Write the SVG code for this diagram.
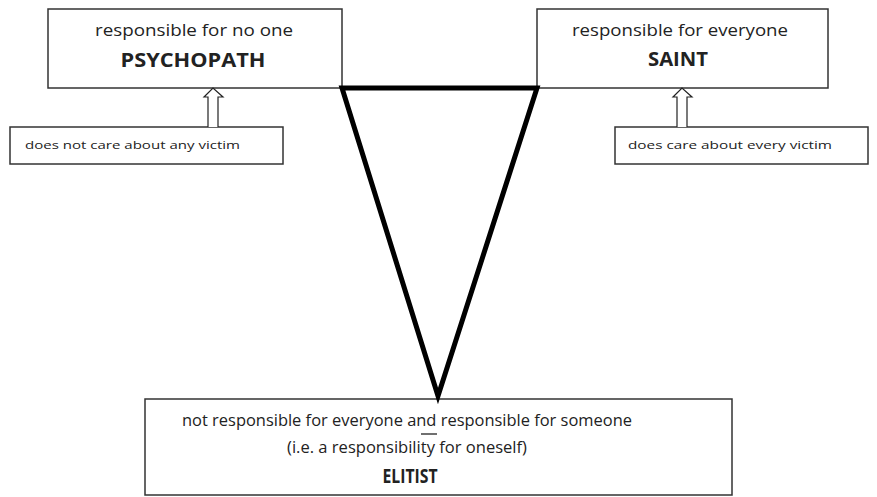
<svg xmlns="http://www.w3.org/2000/svg" width="877" height="497" viewBox="0 0 877 497">
<style>
.box{fill:#fff;stroke:#333;stroke-width:1.5}
.t{font-family:"Open Sans","Liberation Sans",sans-serif;fill:#222;text-anchor:middle}
.s{font-family:"Open Sans","Liberation Sans",sans-serif;fill:#222;font-size:11.5px}
.b{font-weight:bold}
.arr{fill:#fff;stroke:#222;stroke-width:1.2}
</style>
<rect width="877" height="497" fill="#fff"/>
<g id="psychopath">
<rect class="box" x="48" y="9" width="294" height="79"/>
<text class="t" x="194" y="36" font-size="16" textLength="198" lengthAdjust="spacingAndGlyphs">responsible for no one</text>
<text class="t b" x="193" y="67" font-size="20" textLength="145" lengthAdjust="spacingAndGlyphs">PSYCHOPATH</text>
</g>
<g id="saint">
<rect class="box" x="537" y="9" width="291" height="79"/>
<text class="t" x="680" y="36" font-size="16" textLength="216" lengthAdjust="spacingAndGlyphs">responsible for everyone</text>
<text class="t b" x="678" y="66" font-size="20" textLength="60" lengthAdjust="spacingAndGlyphs">SAINT</text>
</g>
<g id="psychopath-note">
<rect class="box" x="10" y="127" width="273" height="37"/>
<text class="s" x="25" y="149" textLength="215" lengthAdjust="spacingAndGlyphs">does not care about any victim</text>
</g>
<g id="saint-note">
<rect class="box" x="615" y="127" width="253" height="37"/>
<text class="s" x="628" y="149" textLength="204" lengthAdjust="spacingAndGlyphs">does care about every victim</text>
</g>
<g id="elitist">
<rect class="box" x="145" y="399" width="587" height="96"/>
<text class="t" x="407" y="426" font-size="16" textLength="450" lengthAdjust="spacingAndGlyphs">not responsible for everyone and responsible for someone</text>
<line x1="421" y1="434" x2="437" y2="434" stroke="#222" stroke-width="1.3"/>
<text class="t" x="407" y="453" font-size="16" textLength="240" lengthAdjust="spacingAndGlyphs">(i.e. a responsibility for oneself)</text>
<text class="t b" x="410" y="483" font-size="20" textLength="55" lengthAdjust="spacingAndGlyphs">ELITIST</text>
</g>
<g id="connectors">
<path class="arr" d="M208 127 V97 H204 L213 88 L223 97 H218 V127"/>
<path class="arr" d="M677 127 V97 H673 L682 88 L692 97 H687 V127"/>
<path d="M342 88 H537 L438 396 Z" fill="none" stroke="#000" stroke-width="5" stroke-linejoin="miter" stroke-miterlimit="10"/>
</g>
</svg>
